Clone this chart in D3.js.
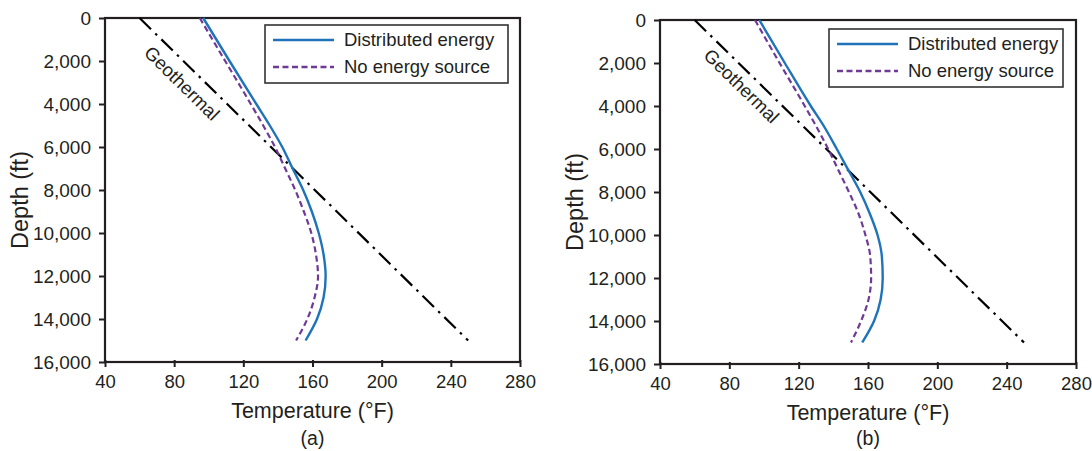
<!DOCTYPE html>
<html>
<head>
<meta charset="utf-8">
<script src="https://cdn.jsdelivr.net/npm/d3@7"></script>
<style>
  html, body { margin: 0; padding: 0; background: #fff; }
  svg { display: block; }
  text { font-family: "Liberation Sans", Arial, sans-serif; fill: #231f20; }
</style>
</head>
<body>
<svg id="chart" width="1092" height="451"></svg>
<script>
// ---------- data ----------
const depths = [0, 2000, 4000, 5000, 6000, 7000, 8000, 9000, 10000, 11000, 12000, 13000, 14000, 15000];
const distributedA = [96.8, 112, 127.5, 135.3, 142.5, 148.5, 154.6, 159.6, 163.6, 166.4, 167.6, 166.4, 162.6, 156];
const noSourceA    = [94.8, 109.5, 124.3, 131.5, 138.3, 144.2, 150, 155, 159.3, 162, 163.2, 161.2, 157, 150.5];
const distributedB = [97.3, 112, 127, 135, 142, 148.8, 155.5, 161, 165.5, 168, 168.5, 167.3, 163.5, 156.7];
const noSourceB    = [94.8, 109, 123.5, 130.5, 137, 143, 149, 154.5, 158.5, 161.3, 161.8, 160.3, 156, 150.2];
const geoDepths = [0, 15000];
const geoTemps  = [60, 250];
const xTicks = [40, 80, 120, 160, 200, 240, 280];
const yTicks = [0, 2000, 4000, 6000, 8000, 10000, 12000, 14000, 16000];
const seriesNames = ["Distributed energy", "No energy source"];
const panelLabels = ["(a)", "(b)"];
const xTitle = "Temperature (°F)";
const yTitle = "Depth (ft)";
const geoLabel = "Geothermal";

// ---------- drawing ----------
const svg = d3.select("#chart");
const INK = "#231f20";
const BLUE = "#1f73b9";
const PURPLE = "#6f3a96";

const panels = [
  { x0: 105, x1: 520, y0: 18, y1: 362, dist: distributedA, none: noSourceA, label: panelLabels[0],
    legend: { x: 265, y: 25, w: 243, h: 58 }, yTitleX: 20, geoAt: [84.5, 3030] },
  { x0: 660, x1: 1076, y0: 20, y1: 364, dist: distributedB, none: noSourceB, label: panelLabels[1],
    legend: { x: 829, y: 29, w: 234, h: 58 }, yTitleX: 575, geoAt: [87, 3070] }
];

panels.forEach(p => {
  const g = svg.append("g");
  const x = d3.scaleLinear().domain([40, 280]).range([p.x0, p.x1]);
  const y = d3.scaleLinear().domain([0, 16000]).range([p.y0, p.y1]);

  // frame
  g.append("rect").attr("x", p.x0).attr("y", p.y0)
    .attr("width", p.x1 - p.x0).attr("height", p.y1 - p.y0)
    .attr("fill", "none").attr("stroke", INK).attr("stroke-width", 2.2);

  // x axis
  const xAxis = d3.axisBottom(x).tickValues(xTicks).tickSize(5).tickPadding(8).tickFormat(d3.format("d"));
  const gx = g.append("g").attr("transform", `translate(0,${p.y1})`).call(xAxis);
  gx.select(".domain").remove();
  gx.selectAll(".tick line").attr("stroke", INK).attr("stroke-width", 2).attr("y1", -2);
  gx.selectAll(".tick text").attr("font-size", 18.5).attr("font-family", "Liberation Sans, Arial, sans-serif").attr("fill", INK);

  // y axis
  const yAxis = d3.axisLeft(y).tickValues(yTicks).tickSize(6).tickPadding(8).tickFormat(d3.format(","));
  const gy = g.append("g").attr("transform", `translate(${p.x0},0)`).call(yAxis);
  gy.select(".domain").remove();
  gy.selectAll(".tick line").attr("stroke", INK).attr("stroke-width", 2);
  gy.selectAll(".tick text").attr("font-size", 19).attr("font-family", "Liberation Sans, Arial, sans-serif").attr("fill", INK);

  // axis titles
  g.append("text").attr("x", (p.x0 + p.x1) / 2).attr("y", p.y1 + 56)
    .attr("text-anchor", "middle").attr("font-size", 21.5).text(xTitle);
  g.append("text").attr("x", (p.x0 + p.x1) / 2).attr("y", 445)
    .attr("text-anchor", "middle").attr("font-size", 19.5).text(p.label);
  g.append("text")
    .attr("transform", `translate(${p.yTitleX},${(p.y0 + p.y1) / 2 + 10}) rotate(-90)`)
    .attr("text-anchor", "middle").attr("dy", "0.35em").attr("font-size", 23.5).text(yTitle);

  // geothermal line
  const geo = geoDepths.map((d, i) => [geoTemps[i], d]);
  const lineGen = d3.line().x(d => x(d[0])).y(d => y(d[1]));
  g.append("path").attr("d", lineGen(geo))
    .attr("fill", "none").attr("stroke", "#000").attr("stroke-width", 2.2)
    .attr("stroke-dasharray", "16,6,2.5,6");

  // geothermal label
  const ang = Math.atan2(y(geoDepths[1]) - y(geoDepths[0]), x(geoTemps[1]) - x(geoTemps[0])) * 180 / Math.PI;
  g.append("text")
    .attr("transform", `translate(${x(p.geoAt[0])},${y(p.geoAt[1])}) rotate(${ang})`)
    .attr("text-anchor", "middle").attr("dy", "0.35em").attr("font-size", 18.5).text(geoLabel);

  // profiles
  const curve = d3.line().x(d => x(d[0])).y(d => y(d[1])).curve(d3.curveMonotoneY);
  g.append("path").attr("d", curve(depths.map((d, i) => [p.none[i], d])))
    .attr("fill", "none").attr("stroke", PURPLE).attr("stroke-width", 2.2)
    .attr("stroke-dasharray", "6,3.5");
  g.append("path").attr("d", curve(depths.map((d, i) => [p.dist[i], d])))
    .attr("fill", "none").attr("stroke", BLUE).attr("stroke-width", 2.4);

  // legend
  const L = p.legend;
  const lg = g.append("g");
  lg.append("rect").attr("x", L.x).attr("y", L.y).attr("width", L.w).attr("height", L.h)
    .attr("fill", "#fff").attr("stroke", "#333").attr("stroke-width", 1.6);
  const styles = [{ c: BLUE, dash: null }, { c: PURPLE, dash: "6,3.5" }];
  seriesNames.forEach((name, i) => {
    const ly = L.y + 15 + i * 27;
    lg.append("line").attr("x1", L.x + 8).attr("x2", L.x + 69).attr("y1", ly).attr("y2", ly)
      .attr("stroke", styles[i].c).attr("stroke-width", 2.4)
      .attr("stroke-dasharray", styles[i].dash);
    lg.append("text").attr("x", L.x + 79).attr("y", ly).attr("dy", "0.35em")
      .attr("font-size", 18.5).text(name);
  });
});
</script>
</body>
</html>
